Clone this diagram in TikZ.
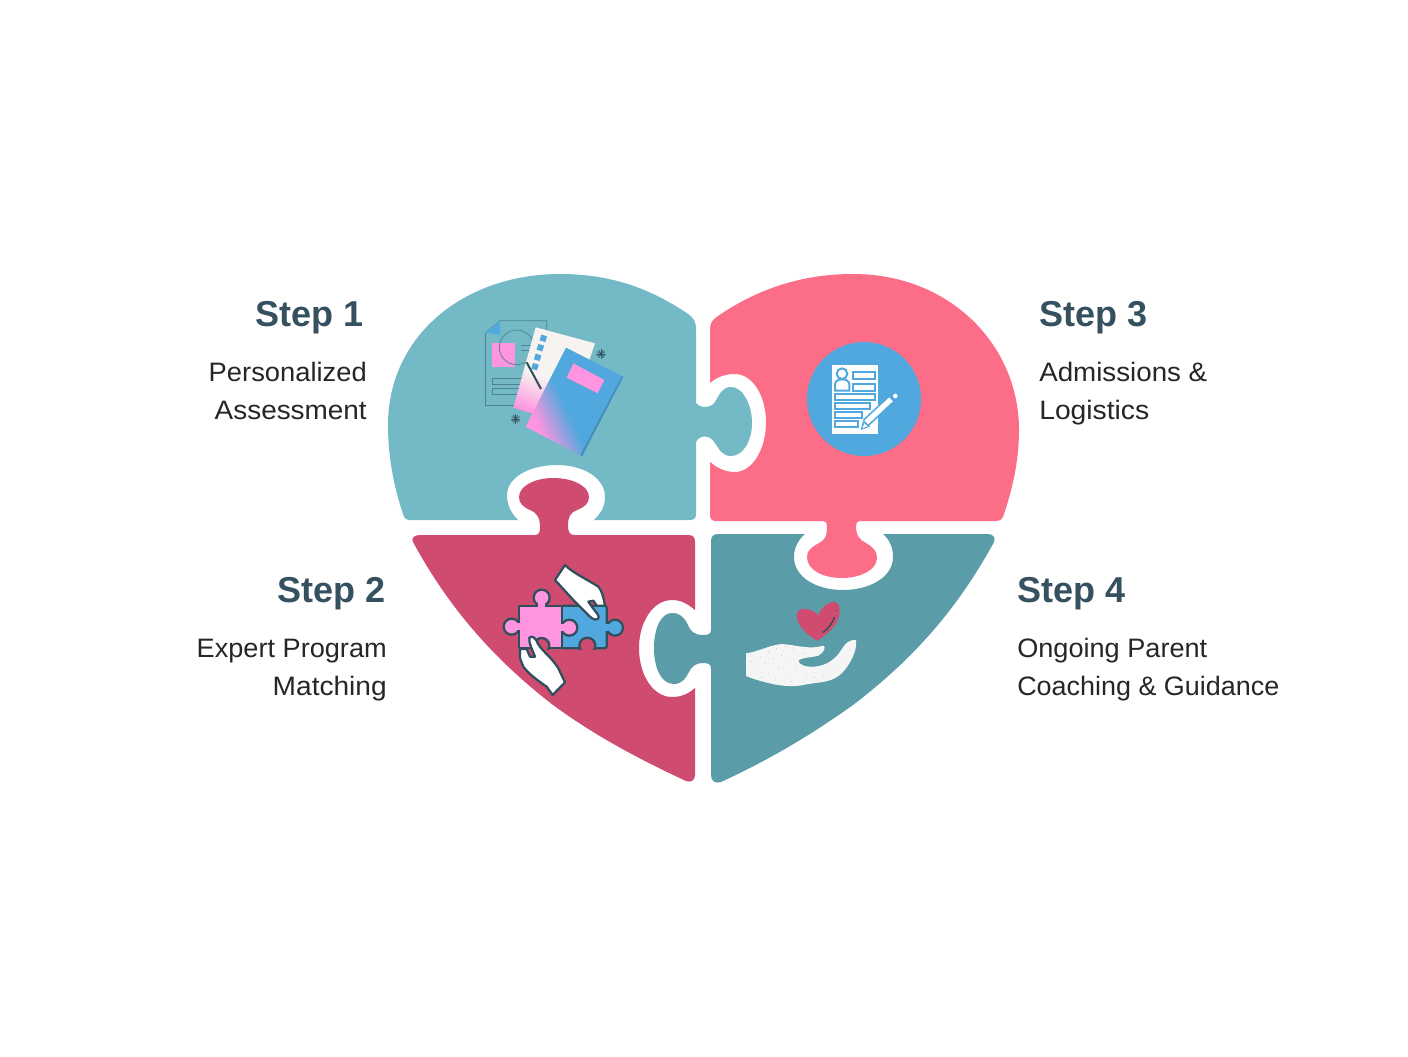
\documentclass[tikz,border=0pt]{standalone}
\usepackage{fontspec}
\usepackage{graphicx}
\setmainfont{Liberation Sans}
\definecolor{cteal}{HTML}{73BAC6}
\definecolor{cpink}{HTML}{FC6E88}
\definecolor{ccrim}{HTML}{CF4C70}
\definecolor{cdteal}{HTML}{5A9DA8}
\definecolor{cblue}{HTML}{50A8DE}
\definecolor{cmag}{HTML}{FF94E0}
\definecolor{cdark}{HTML}{2F4F5C}
\definecolor{chead}{HTML}{35505E}
\definecolor{cbody}{HTML}{262626}
\definecolor{cpaper}{HTML}{F7F3F1}
\definecolor{cline}{HTML}{4F8391}
\pgfdeclarehorizontalshading{bookgrad}{100bp}{color(0bp)=(cmag); color(46.9bp)=(cmag); color(53.1bp)=(cblue); color(100bp)=(cblue)}
\pgfdeclarehorizontalshading{papergrad}{100bp}{color(0bp)=(cmag); color(46.5bp)=(cmag); color(53.5bp)=(cpaper); color(100bp)=(cpaper)}
\newcommand{\fitw}[2]{\resizebox{\dimexpr #1pt*3/4\relax}{\height}{#2}}
\tikzset{
  headtxt/.style={font=\bfseries\fontsize{27}{32}\selectfont,text=chead,inner sep=0pt},
  bodytxt/.style={font=\fontsize{20}{28.5}\selectfont,text=cbody,inner sep=0pt},
  zoomed/.style={x=0.25pt,y=-0.25pt},
  outl/.style={draw=cdark,line width=1.7pt,line join=round},
  docl/.style={draw=cline,line width=0.55pt},
}
\begin{document}
\begin{tikzpicture}[x=0.75pt,y=-0.75pt]
\useasboundingbox (0,0) rectangle (1408,1056);
\fill[white] (0,0) rectangle (1408,1056);
% --- piece 1
\fill[cteal] (696,403) .. controls (700,408) and (710,409) .. (715,402)
 .. controls (720,393) and (723,387) .. (731,387)
 .. controls (743,387) and (752,405) .. (752,423)
 .. controls (752,441) and (743,456) .. (731,456)
 .. controls (723,456) and (720,451) .. (715,443)
 .. controls (710,435) and (700,434) .. (696,442)
 -- (696,514) .. controls (696,518) and (694,520) .. (690,520)
 -- (594,520) .. controls (601,513) and (605,507) .. (605,497)
 .. controls (605,477) and (582,465) .. (557,465)
 .. controls (530,465) and (507,477) .. (507,495)
 .. controls (507,505) and (511,513) .. (518,520)
 -- (410,520) .. controls (406,520) and (404,518) .. (403,514)
 .. controls (395,490) and (388,460) .. (388,425)
 .. controls (388,335) and (465,274) .. (560,274)
 .. controls (610,274) and (650,288) .. (688,314)
 .. controls (694,318) and (696,322) .. (696,330) -- cycle;
% --- piece 3
\fill[cpink] (710,330) .. controls (710,323) and (712,320) .. (718,316)
 .. controls (756,290) and (800,274) .. (853,274)
 .. controls (950,274) and (1019,345) .. (1019,430)
 .. controls (1019,462) and (1012,490) .. (1004,514)
 .. controls (1003,518) and (1001,521) .. (996,521)
 -- (860,521) .. controls (857,521) and (856,523) .. (856,526)
 .. controls (856,536) and (860,540) .. (866,543)
 .. controls (873,547) and (877,551) .. (877,558)
 .. controls (877,570) and (860,578) .. (842,578)
 .. controls (823,578) and (807,570) .. (807,557)
 .. controls (807,550) and (812,547) .. (819,543)
 .. controls (825,540) and (827,536) .. (827,526)
 .. controls (827,523) and (826,521) .. (823,521)
 -- (716,521) .. controls (712,521) and (710,519) .. (710,515)
 -- (710,462) .. controls (717,468) and (725,472) .. (735,472)
 .. controls (752,472) and (766,450) .. (766,422)
 .. controls (766,395) and (752,374) .. (735,374)
 .. controls (725,374) and (717,377) .. (710,383) -- cycle;
% --- piece 2
\fill[ccrim] (420,535) -- (535,535) .. controls (539,535) and (540,532) .. (540,528)
 .. controls (540,517) and (537,513) .. (530,510)
 .. controls (523,507) and (519,503) .. (519,497)
 .. controls (519,486) and (535,478) .. (553,478)
 .. controls (573,478) and (589,486) .. (589,497)
 .. controls (589,503) and (585,507) .. (577,510)
 .. controls (570,513) and (568,517) .. (568,526)
 .. controls (568,532) and (570,535) .. (574,535)
 -- (688,535) .. controls (693,535) and (695,537) .. (695,542)
 -- (695,610) .. controls (688,604) and (681,600) .. (672,600)
 .. controls (653,600) and (639,622) .. (639,648)
 .. controls (639,675) and (653,697) .. (672,697)
 .. controls (681,697) and (688,694) .. (695,688)
 -- (695,775) .. controls (695,780) and (691,783) .. (686,781)
 .. controls (630,755) and (590,732) .. (553,705)
 .. controls (495,660) and (450,610) .. (413,542)
 .. controls (411,538) and (414,535) .. (420,535) -- cycle;
% --- piece 4
\fill[cdteal] (711,630) .. controls (711,634) and (708,635) .. (703,635)
 .. controls (695,635) and (691,632) .. (688,625)
 .. controls (684,617) and (680,613) .. (672,613)
 .. controls (661,613) and (654,628) .. (654,648)
 .. controls (654,668) and (661,684) .. (674,684)
 .. controls (682,684) and (686,678) .. (689,672)
 .. controls (692,666) and (696,663) .. (703,663)
 .. controls (708,663) and (711,664) .. (711,669)
 -- (711,775) .. controls (711,781) and (715,784) .. (721,782)
 .. controls (775,757) and (815,732) .. (853,705)
 .. controls (912,660) and (957,610) .. (994,542)
 .. controls (996,538) and (993,534) .. (988,534)
 -- (883,534) .. controls (890,540) and (893,548) .. (893,557)
 .. controls (893,577) and (870,590) .. (843,590)
 .. controls (816,590) and (794,577) .. (794,557)
 .. controls (794,548) and (798,540) .. (805,534)
 -- (718,534) .. controls (713,534) and (711,537) .. (711,541) -- cycle;
% --- icon 1: documents
\begin{scope}[shift={(470,310)},zoomed]
  \draw[docl] (47,68) -- (90,32) -- (230,32) -- (230,110);
  \draw[docl] (47,68) -- (47,285) -- (178,285);
  \fill[cblue] (47,68) -- (90,32) -- (90,75) -- cycle;
  \fill[cmag] (65,100) rectangle (135,170);
  \draw[docl] (140,112) circle (52);
  \draw[docl] (152,105) -- (185,105) (152,120) -- (180,120);
  \draw[docl] (67,205) rectangle (155,222);
  \draw[docl] (67,235) rectangle (150,252);
  \begin{scope}
    \clip (197,52) -- (375,100) -- (320,260) -- (185,310) -- (130,293) -- cycle;
    \shade[shading=papergrad,shading angle=68] (-235,-160) rectangle (565,640);
  \end{scope}
  \foreach \a/\b in {220/85,211/113,203/142,195/170}
    \fill[cblue,rotate around={-17:(\a,\b)}] (\a-9,\b-9) rectangle (\a+9,\b+9);
  \draw[cdark,line width=1.5pt] (170,157) -- (213,237);
  \fill[cblue!85!black] (455,198) -- (460,200) -- (337,438) -- (330,435) -- cycle;
  \begin{scope}
    \clip (288,113) -- (455,198) -- (330,435) -- (167,350) -- cycle;
    \shade[shading=bookgrad,shading angle=25] (-150,-70) rectangle (650,730);
  \end{scope}
  \fill[cmag] (310,160) -- (403,210) -- (383,250) -- (290,203) -- cycle;
  \foreach \cx/\cy in {393/132,137/327}{
    \foreach \t in {0,30,...,330}
      \draw[cline!70!black,line width=0.5pt] (\cx,\cy) -- ++(\t:14);
    \fill[cdark] (\cx,\cy) circle (4);
  }
\end{scope}
% --- icon 2: puzzle + hands
\begin{scope}[shift={(490,555)},zoomed]
  % blue piece
  \draw[outl,fill=cblue,rounded corners=1.5pt] (215,152) rectangle (350,280);
  \draw[outl,fill=cblue] (375,218) circle (24);
  \fill[cblue] (343,208) rectangle (360,228);
  \draw[outl,fill=ccrim] (292,272) circle (24);
  \fill[ccrim] (262,284.5) rectangle (322,302);
  % pink piece
  \draw[outl,fill=cmag] (88,152) rectangle (215,280);
  \draw[outl,fill=cmag] (155,128) circle (24);
  \draw[outl,fill=cmag] (65,215) circle (24);
  \draw[outl,fill=cmag] (238,218) circle (24);
  \fill[cmag] (145,138) rectangle (165,160);
  \fill[cmag] (78,205) rectangle (96,225);
  \fill[cmag] (207,208) rectangle (226,228);
  \draw[outl,fill=ccrim] (155,272) circle (23);
  \fill[ccrim] (126,284.5) rectangle (184,302);
  % hands
  \draw[outl,fill=white] (225,30) -- (195,75) -- (250,135) -- (300,185)
     .. controls (310,195) and (322,197) .. (326,188)
     .. controls (328,180) and (315,170) .. (295,140)
     -- (310,137) -- (320,152) -- (345,152)
     .. controls (340,125) and (335,105) .. (325,95)
     .. controls (295,75) and (250,55) .. (225,30) -- cycle;
  \draw[outl,fill=white] (118,248) .. controls (128,240) and (135,250) .. (140,258)
     .. controls (150,285) and (180,300) .. (205,340)
     -- (225,382) -- (188,420) -- (170,395)
     .. controls (140,375) and (115,355) .. (100,335)
     -- (90,310) -- (90,282) -- (110,282) -- (120,305) -- (135,305)
     .. controls (130,290) and (115,265) .. (118,248) -- cycle;
\end{scope}
% --- icon 3: form in circle
\fill[cblue] (864,399) circle (57);
\begin{scope}[shift={(795,335)},zoomed]
  \fill[white] (110,90) rectangle (248,297);
  \tikzset{fb/.style={draw=cblue,line width=1.5pt,fill=white}}
  \draw[fb] (120,167) -- (120,148) .. controls (120,128) and (163,128) .. (163,148) -- (163,167) -- cycle;
  \draw[fb] (141,116) circle (16);
  \draw[fb] (175,111) rectangle (239,132);
  \draw[fb] (175,146) rectangle (239,167);
  \draw[fb] (119,178) rectangle (239,195);
  \draw[fb] (119,205) rectangle (224,222);
  \draw[fb] (119,232) rectangle (202,249);
  \draw[fb] (119,259) rectangle (189,276);
  \draw[cblue,line width=6.5pt] (212,264) -- (288,193);
  \draw[white,line width=4pt] (214,262) -- (288,193);
  \fill[cblue] (197,285) -- (204,258) -- (225,275) -- cycle;
  \fill[white] (203,279) -- (208,265) -- (218,274) -- cycle;
  \fill[white] (301,183) circle (7);
\end{scope}
% --- icon 4: hand + heart
\begin{scope}[shift={(735,590)},zoomed]
  \fill[ccrim] (247,152) .. controls (215,135) and (185,105) .. (185,75)
     .. controls (187,50) and (225,50) .. (250,76)
     .. controls (262,45) and (290,30) .. (305,38)
     .. controls (320,50) and (315,85) .. (300,105)
     .. controls (285,125) and (265,140) .. (247,152) -- cycle;
  \draw[cdark,line width=1pt,line cap=round] (264,127) .. controls (280,115) and (292,100) .. (298,82);
  \fill[cdark] (304,61) circle (2);
  \fill[white!96!black] (33,190) .. controls (70,185) and (105,165) .. (140,162)
     .. controls (185,165) and (225,180) .. (265,167)
     .. controls (275,170) and (265,190) .. (250,197)
     .. controls (235,202) and (200,202) .. (190,212)
     .. controls (190,225) and (215,232) .. (240,230)
     .. controls (280,225) and (305,205) .. (325,170)
     .. controls (335,155) and (350,148) .. (363,150)
     .. controls (368,180) and (345,225) .. (320,250)
     .. controls (290,278) and (260,275) .. (215,283)
     .. controls (175,293) and (130,288) .. (85,275)
     .. controls (65,270) and (50,265) .. (33,258) -- cycle;
  \foreach \px/\py in {50/215,75/200,100/185,125/175,150/170,175/180,205/190,60/240,90/220,115/205,140/195,165/215,100/250,130/235,155/255,185/240,215/255,240/262,265/255,300/235,330/210,345/180,120/270,170/275,80/262}
    \fill[black!45] (\px,\py) circle (1.1);
\end{scope}
% --- text
\node[headtxt,anchor=base east] (h1) at (364,326) {Step 1};
\node[bodytxt,anchor=base east] (b1a) at (367,381) {\fitw{158}{Personalized}};
\node[bodytxt,anchor=base east] (b1b) at (367,419) {\fitw{152}{Assessment}};
\node[headtxt,anchor=base east] (h2) at (386,602) {Step 2};
\node[bodytxt,anchor=base east] (b2a) at (387,657) {\fitw{190}{Expert Program}};
\node[bodytxt,anchor=base east] (b2b) at (387,695) {\fitw{114}{Matching}};
\node[headtxt,anchor=base west] (h3) at (1039,326) {Step 3};
\node[bodytxt,anchor=base west] (b3a) at (1039,381) {\fitw{168}{Admissions \&}};
\node[bodytxt,anchor=base west] (b3b) at (1039,419) {\fitw{110}{Logistics}};
\node[headtxt,anchor=base west] (h4) at (1017,602) {Step 4};
\node[bodytxt,anchor=base west] (b4a) at (1017,657) {\fitw{190}{Ongoing Parent}};
\node[bodytxt,anchor=base west] (b4b) at (1017,695) {\fitw{262}{Coaching \& Guidance}};
\end{tikzpicture}
\end{document}
